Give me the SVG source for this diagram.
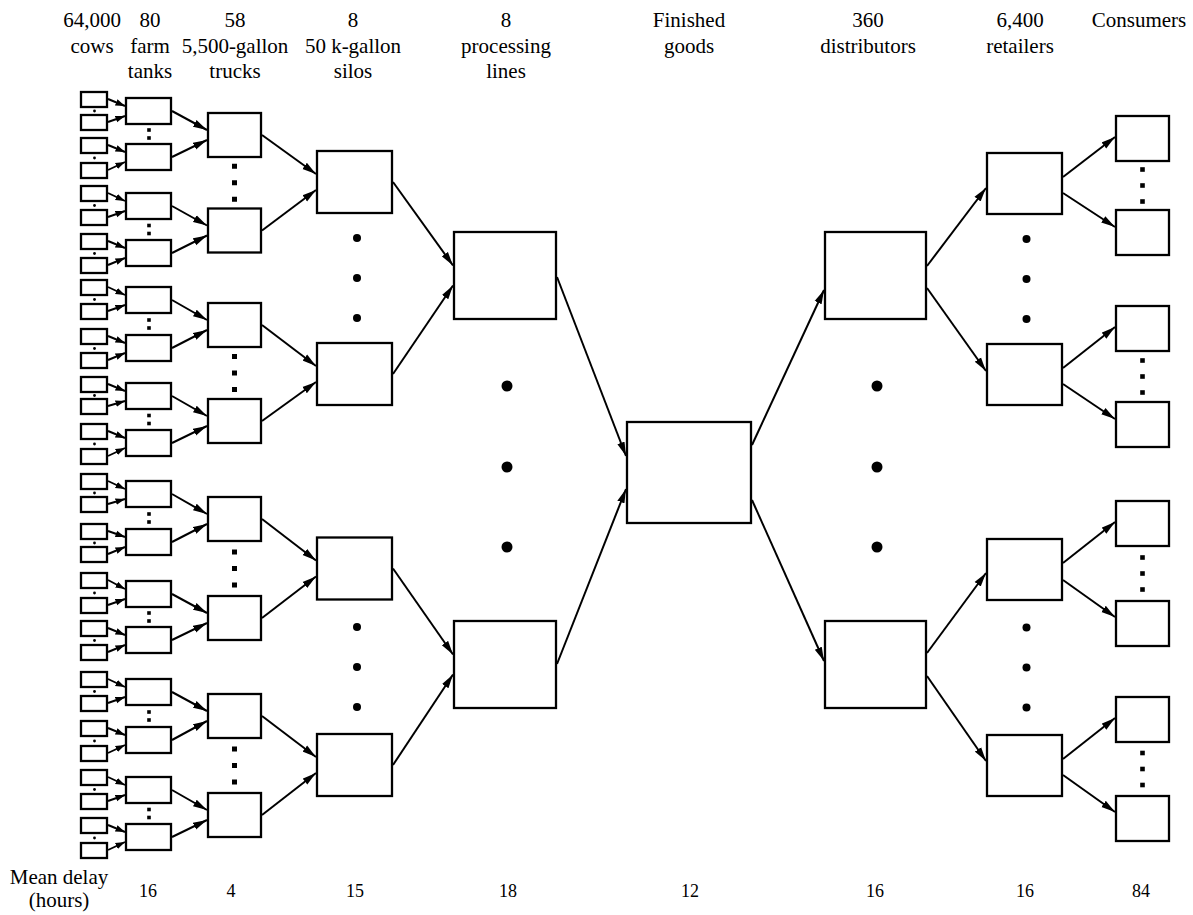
<svg xmlns="http://www.w3.org/2000/svg" width="1193" height="915" viewBox="0 0 1193 915">
  <defs>
    <style>
      .box { fill: #fff; stroke: #000; stroke-width: 2.3; }
      .lbl { font-size: 21px; fill: #000; text-anchor: middle; }
      .num { font-size: 18px; fill: #000; text-anchor: middle; }
      .arr { stroke: #000; stroke-width: 2; fill: none; marker-end: url(#head); }
      .sarr { stroke: #000; stroke-width: 1.9; fill: none; marker-end: url(#headSmall); }
      .dot { fill: #000; }
    </style>
    <marker id="head" markerUnits="userSpaceOnUse" markerWidth="15" markerHeight="9" refX="14" refY="4.5" orient="auto">
      <path d="M0,0.7 L14,4.5 L0,8.3 z" fill="#000"/>
    </marker>
    <marker id="headSmall" markerUnits="userSpaceOnUse" markerWidth="10" markerHeight="8" refX="9.5" refY="4" orient="auto">
      <path d="M0,0.7 L9.5,4 L0,7.3 z" fill="#000"/>
    </marker>
  </defs>

  <rect width="1193" height="915" fill="#fff"/>

  <g font-family="Liberation Serif, Times New Roman, DejaVu Serif, serif">
  <!-- column headings -->
  <g id="headings">
    <text class="lbl" x="92" y="27">64,000</text>
    <text class="lbl" x="92" y="53">cows</text>
    <text class="lbl" x="150" y="27">80</text>
    <text class="lbl" x="150" y="53">farm</text>
    <text class="lbl" x="150" y="78">tanks</text>
    <text class="lbl" x="235" y="27">58</text>
    <text class="lbl" x="235" y="53">5,500-gallon</text>
    <text class="lbl" x="235" y="78">trucks</text>
    <text class="lbl" x="353" y="27">8</text>
    <text class="lbl" x="353" y="53">50 k-gallon</text>
    <text class="lbl" x="353" y="78">silos</text>
    <text class="lbl" x="506" y="27">8</text>
    <text class="lbl" x="506" y="53">processing</text>
    <text class="lbl" x="506" y="78">lines</text>
    <text class="lbl" x="689" y="27">Finished</text>
    <text class="lbl" x="689" y="53">goods</text>
    <text class="lbl" x="868" y="27">360</text>
    <text class="lbl" x="868" y="53">distributors</text>
    <text class="lbl" x="1020" y="27">6,400</text>
    <text class="lbl" x="1020" y="53">retailers</text>
    <text class="lbl" x="1139" y="27">Consumers</text>
  </g>

  <!-- mean delay row -->
  <g id="delays">
    <text class="lbl" x="59" y="884">Mean delay</text>
    <text class="lbl" x="59" y="907">(hours)</text>
    <text class="num" x="148" y="897">16</text>
    <text class="num" x="231" y="897">4</text>
    <text class="num" x="355" y="897">15</text>
    <text class="num" x="508" y="897">18</text>
    <text class="num" x="690" y="897">12</text>
    <text class="num" x="875" y="897">16</text>
    <text class="num" x="1025" y="897">16</text>
    <text class="num" x="1141" y="897">84</text>
  </g>
  </g>

  <!-- cows -->
  <g id="cow-01"><rect class="box" x="81" y="92" width="26" height="15"/></g>
  <g id="cow-02"><rect class="box" x="81" y="115" width="26" height="15"/></g>
  <g id="cow-03"><rect class="box" x="81" y="138" width="26" height="15"/></g>
  <g id="cow-04"><rect class="box" x="81" y="163" width="26" height="15"/></g>
  <g id="cow-05"><rect class="box" x="81" y="186" width="26" height="15"/></g>
  <g id="cow-06"><rect class="box" x="81" y="210" width="26" height="15"/></g>
  <g id="cow-07"><rect class="box" x="81" y="234" width="26" height="15"/></g>
  <g id="cow-08"><rect class="box" x="81" y="258" width="26" height="15"/></g>
  <g id="cow-09"><rect class="box" x="81" y="280" width="26" height="15"/></g>
  <g id="cow-10"><rect class="box" x="81" y="304" width="26" height="15"/></g>
  <g id="cow-11"><rect class="box" x="81" y="329" width="26" height="15"/></g>
  <g id="cow-12"><rect class="box" x="81" y="353" width="26" height="15"/></g>
  <g id="cow-13"><rect class="box" x="81" y="377" width="26" height="15"/></g>
  <g id="cow-14"><rect class="box" x="81" y="399" width="26" height="15"/></g>
  <g id="cow-15"><rect class="box" x="81" y="424" width="26" height="15"/></g>
  <g id="cow-16"><rect class="box" x="81" y="449" width="26" height="15"/></g>
  <g id="cow-17"><rect class="box" x="81" y="474" width="26" height="15"/></g>
  <g id="cow-18"><rect class="box" x="81" y="497" width="26" height="15"/></g>
  <g id="cow-19"><rect class="box" x="81" y="524" width="26" height="15"/></g>
  <g id="cow-20"><rect class="box" x="81" y="547" width="26" height="15"/></g>
  <g id="cow-21"><rect class="box" x="81" y="573" width="26" height="15"/></g>
  <g id="cow-22"><rect class="box" x="81" y="598" width="26" height="15"/></g>
  <g id="cow-23"><rect class="box" x="81" y="621" width="26" height="15"/></g>
  <g id="cow-24"><rect class="box" x="81" y="645" width="26" height="15"/></g>
  <g id="cow-25"><rect class="box" x="81" y="672" width="26" height="15"/></g>
  <g id="cow-26"><rect class="box" x="81" y="696" width="26" height="15"/></g>
  <g id="cow-27"><rect class="box" x="81" y="721" width="26" height="15"/></g>
  <g id="cow-28"><rect class="box" x="81" y="746" width="26" height="15"/></g>
  <g id="cow-29"><rect class="box" x="81" y="770" width="26" height="15"/></g>
  <g id="cow-30"><rect class="box" x="81" y="794" width="26" height="15"/></g>
  <g id="cow-31"><rect class="box" x="81" y="818" width="26" height="15"/></g>
  <g id="cow-32"><rect class="box" x="81" y="843" width="26" height="15"/></g>

  <!-- farm tanks -->
  <g id="tank-01"><rect class="box" x="126" y="98" width="45" height="26"/></g>
  <g id="tank-02"><rect class="box" x="126" y="144" width="45" height="26"/></g>
  <g id="tank-03"><rect class="box" x="126" y="193" width="45" height="26"/></g>
  <g id="tank-04"><rect class="box" x="126" y="240" width="45" height="26"/></g>
  <g id="tank-05"><rect class="box" x="126" y="287" width="45" height="26"/></g>
  <g id="tank-06"><rect class="box" x="126" y="335" width="45" height="26"/></g>
  <g id="tank-07"><rect class="box" x="126" y="383" width="45" height="26"/></g>
  <g id="tank-08"><rect class="box" x="126" y="430" width="45" height="26"/></g>
  <g id="tank-09"><rect class="box" x="126" y="481" width="45" height="26"/></g>
  <g id="tank-10"><rect class="box" x="126" y="529" width="45" height="26"/></g>
  <g id="tank-11"><rect class="box" x="126" y="581" width="45" height="26"/></g>
  <g id="tank-12"><rect class="box" x="126" y="627" width="45" height="26"/></g>
  <g id="tank-13"><rect class="box" x="126" y="679" width="45" height="26"/></g>
  <g id="tank-14"><rect class="box" x="126" y="727" width="45" height="26"/></g>
  <g id="tank-15"><rect class="box" x="126" y="777" width="45" height="26"/></g>
  <g id="tank-16"><rect class="box" x="126" y="824" width="45" height="26"/></g>

  <!-- trucks -->
  <g id="truck-1"><rect class="box" x="208" y="113" width="53" height="44"/></g>
  <g id="truck-2"><rect class="box" x="208" y="208.5" width="53" height="44"/></g>
  <g id="truck-3"><rect class="box" x="208" y="303" width="53" height="44"/></g>
  <g id="truck-4"><rect class="box" x="208" y="399" width="53" height="44"/></g>
  <g id="truck-5"><rect class="box" x="208" y="497" width="53" height="44"/></g>
  <g id="truck-6"><rect class="box" x="208" y="596" width="53" height="44"/></g>
  <g id="truck-7"><rect class="box" x="208" y="694" width="53" height="44"/></g>
  <g id="truck-8"><rect class="box" x="208" y="793" width="53" height="44"/></g>

  <!-- silos -->
  <g id="silo-1"><rect class="box" x="317" y="151" width="75" height="62"/></g>
  <g id="silo-2"><rect class="box" x="317" y="343" width="75" height="62"/></g>
  <g id="silo-3"><rect class="box" x="317" y="537.5" width="75" height="62"/></g>
  <g id="silo-4"><rect class="box" x="317" y="734" width="75" height="62"/></g>

  <!-- processing lines -->
  <g id="line-1"><rect class="box" x="454" y="232" width="102" height="87"/></g>
  <g id="line-2"><rect class="box" x="454" y="621" width="102" height="87"/></g>

  <!-- finished goods -->
  <g id="finished-goods"><rect class="box" x="627" y="422" width="124" height="101"/></g>

  <!-- distributors -->
  <g id="distributor-1"><rect class="box" x="825" y="232" width="101" height="87"/></g>
  <g id="distributor-2"><rect class="box" x="825" y="621" width="101" height="87"/></g>

  <!-- retailers -->
  <g id="retailer-1"><rect class="box" x="987" y="153" width="75" height="61"/></g>
  <g id="retailer-2"><rect class="box" x="987" y="344" width="75" height="61"/></g>
  <g id="retailer-3"><rect class="box" x="987" y="539" width="75" height="61"/></g>
  <g id="retailer-4"><rect class="box" x="987" y="735" width="75" height="61"/></g>

  <!-- consumers -->
  <g id="consumer-1"><rect class="box" x="1116" y="116" width="53" height="45"/></g>
  <g id="consumer-2"><rect class="box" x="1116" y="210" width="53" height="45"/></g>
  <g id="consumer-3"><rect class="box" x="1116" y="306" width="53" height="45"/></g>
  <g id="consumer-4"><rect class="box" x="1116" y="402" width="53" height="45"/></g>
  <g id="consumer-5"><rect class="box" x="1116" y="501" width="53" height="45"/></g>
  <g id="consumer-6"><rect class="box" x="1116" y="601" width="53" height="45"/></g>
  <g id="consumer-7"><rect class="box" x="1116" y="697" width="53" height="45"/></g>
  <g id="consumer-8"><rect class="box" x="1116" y="796" width="53" height="45"/></g>

  <!-- ellipsis dots between elided nodes -->
  <g id="ellipses" class="dot">
    <!-- between cows of a pair -->
    <circle cx="94.5" cy="111" r="1.4"/>
    <circle cx="94.5" cy="158" r="1.4"/>
    <circle cx="94.5" cy="205.5" r="1.4"/>
    <circle cx="94.5" cy="253.5" r="1.4"/>
    <circle cx="94.5" cy="299.5" r="1.4"/>
    <circle cx="94.5" cy="348.5" r="1.4"/>
    <circle cx="94.5" cy="395.5" r="1.4"/>
    <circle cx="94.5" cy="444" r="1.4"/>
    <circle cx="94.5" cy="493" r="1.4"/>
    <circle cx="94.5" cy="543" r="1.4"/>
    <circle cx="94.5" cy="593" r="1.4"/>
    <circle cx="94.5" cy="640.5" r="1.4"/>
    <circle cx="94.5" cy="691.5" r="1.4"/>
    <circle cx="94.5" cy="741" r="1.4"/>
    <circle cx="94.5" cy="789.5" r="1.4"/>
    <circle cx="94.5" cy="838" r="1.4"/>
    <!-- between tanks -->
    <rect x="147.2" y="128.2" width="3.6" height="3.6"/><rect x="147.2" y="136.2" width="3.6" height="3.6"/>
    <rect x="147.2" y="223.7" width="3.6" height="3.6"/><rect x="147.2" y="231.7" width="3.6" height="3.6"/>
    <rect x="147.2" y="318.2" width="3.6" height="3.6"/><rect x="147.2" y="326.2" width="3.6" height="3.6"/>
    <rect x="147.2" y="413.7" width="3.6" height="3.6"/><rect x="147.2" y="421.7" width="3.6" height="3.6"/>
    <rect x="147.2" y="512.2" width="3.6" height="3.6"/><rect x="147.2" y="520.2" width="3.6" height="3.6"/>
    <rect x="147.2" y="611.2" width="3.6" height="3.6"/><rect x="147.2" y="619.2" width="3.6" height="3.6"/>
    <rect x="147.2" y="710.2" width="3.6" height="3.6"/><rect x="147.2" y="718.2" width="3.6" height="3.6"/>
    <rect x="147.2" y="807.7" width="3.6" height="3.6"/><rect x="147.2" y="815.7" width="3.6" height="3.6"/>
    <!-- between trucks -->
    <rect x="232" y="163.75" width="5" height="5"/><rect x="232" y="180.25" width="5" height="5"/><rect x="232" y="196.75" width="5" height="5"/>
    <rect x="232" y="354" width="5" height="5"/><rect x="232" y="370.5" width="5" height="5"/><rect x="232" y="387" width="5" height="5"/>
    <rect x="232" y="549.5" width="5" height="5"/><rect x="232" y="566" width="5" height="5"/><rect x="232" y="582.5" width="5" height="5"/>
    <rect x="232" y="746.5" width="5" height="5"/><rect x="232" y="763" width="5" height="5"/><rect x="232" y="779.5" width="5" height="5"/>
    <!-- between silos -->
    <circle cx="357" cy="238" r="4"/><circle cx="357" cy="278" r="4"/><circle cx="357" cy="318" r="4"/>
    <circle cx="357" cy="627" r="4"/><circle cx="357" cy="667" r="4"/><circle cx="357" cy="707" r="4"/>
    <!-- between processing lines -->
    <circle cx="507" cy="386" r="5.5"/><circle cx="507" cy="467" r="5.5"/><circle cx="507" cy="547" r="5.5"/>
    <!-- between distributors -->
    <circle cx="877" cy="386" r="5.5"/><circle cx="877" cy="467" r="5.5"/><circle cx="877" cy="547" r="5.5"/>
    <!-- between retailers -->
    <circle cx="1026.5" cy="239" r="4"/><circle cx="1026.5" cy="279" r="4"/><circle cx="1026.5" cy="319" r="4"/>
    <circle cx="1026.5" cy="627.5" r="4"/><circle cx="1026.5" cy="667.5" r="4"/><circle cx="1026.5" cy="707.5" r="4"/>
    <!-- between consumers -->
    <rect x="1140.2" y="167.2" width="4.6" height="4.6"/><rect x="1140.2" y="183.2" width="4.6" height="4.6"/><rect x="1140.2" y="199.2" width="4.6" height="4.6"/>
    <rect x="1140.2" y="358.2" width="4.6" height="4.6"/><rect x="1140.2" y="374.2" width="4.6" height="4.6"/><rect x="1140.2" y="390.2" width="4.6" height="4.6"/>
    <rect x="1140.2" y="555.2" width="4.6" height="4.6"/><rect x="1140.2" y="571.2" width="4.6" height="4.6"/><rect x="1140.2" y="587.2" width="4.6" height="4.6"/>
    <rect x="1140.2" y="750.7" width="4.6" height="4.6"/><rect x="1140.2" y="766.7" width="4.6" height="4.6"/><rect x="1140.2" y="782.7" width="4.6" height="4.6"/>
  </g>

  <!-- connectors -->
  <g id="connectors">
    <!-- cows to tanks -->
    <line class="sarr" x1="108" y1="99" x2="125" y2="106"/>
    <line class="sarr" x1="108" y1="122" x2="125" y2="116"/>
    <line class="sarr" x1="108" y1="145" x2="125" y2="152"/>
    <line class="sarr" x1="108" y1="170" x2="125" y2="162"/>
    <line class="sarr" x1="108" y1="193" x2="125" y2="201"/>
    <line class="sarr" x1="108" y1="217" x2="125" y2="211"/>
    <line class="sarr" x1="108" y1="241" x2="125" y2="248"/>
    <line class="sarr" x1="108" y1="265" x2="125" y2="258"/>
    <line class="sarr" x1="108" y1="287" x2="125" y2="295"/>
    <line class="sarr" x1="108" y1="311" x2="125" y2="305"/>
    <line class="sarr" x1="108" y1="336" x2="125" y2="343"/>
    <line class="sarr" x1="108" y1="360" x2="125" y2="353"/>
    <line class="sarr" x1="108" y1="384" x2="125" y2="391"/>
    <line class="sarr" x1="108" y1="406" x2="125" y2="401"/>
    <line class="sarr" x1="108" y1="431" x2="125" y2="438"/>
    <line class="sarr" x1="108" y1="456" x2="125" y2="448"/>
    <line class="sarr" x1="108" y1="481" x2="125" y2="489"/>
    <line class="sarr" x1="108" y1="504" x2="125" y2="499"/>
    <line class="sarr" x1="108" y1="531" x2="125" y2="537"/>
    <line class="sarr" x1="108" y1="554" x2="125" y2="547"/>
    <line class="sarr" x1="108" y1="580" x2="125" y2="589"/>
    <line class="sarr" x1="108" y1="605" x2="125" y2="599"/>
    <line class="sarr" x1="108" y1="628" x2="125" y2="635"/>
    <line class="sarr" x1="108" y1="652" x2="125" y2="645"/>
    <line class="sarr" x1="108" y1="679" x2="125" y2="687"/>
    <line class="sarr" x1="108" y1="703" x2="125" y2="697"/>
    <line class="sarr" x1="108" y1="728" x2="125" y2="735"/>
    <line class="sarr" x1="108" y1="753" x2="125" y2="745"/>
    <line class="sarr" x1="108" y1="777" x2="125" y2="785"/>
    <line class="sarr" x1="108" y1="801" x2="125" y2="795"/>
    <line class="sarr" x1="108" y1="825" x2="125" y2="832"/>
    <line class="sarr" x1="108" y1="850" x2="125" y2="842"/>
    <!-- tanks to trucks -->
    <line class="arr" x1="172" y1="111" x2="207" y2="130"/>
    <line class="arr" x1="172" y1="157" x2="207" y2="140"/>
    <line class="arr" x1="172" y1="206" x2="207" y2="225.5"/>
    <line class="arr" x1="172" y1="253" x2="207" y2="235.5"/>
    <line class="arr" x1="172" y1="300" x2="207" y2="320"/>
    <line class="arr" x1="172" y1="348" x2="207" y2="330"/>
    <line class="arr" x1="172" y1="396" x2="207" y2="416"/>
    <line class="arr" x1="172" y1="443" x2="207" y2="426"/>
    <line class="arr" x1="172" y1="494" x2="207" y2="514"/>
    <line class="arr" x1="172" y1="542" x2="207" y2="524"/>
    <line class="arr" x1="172" y1="594" x2="207" y2="613"/>
    <line class="arr" x1="172" y1="640" x2="207" y2="623"/>
    <line class="arr" x1="172" y1="692" x2="207" y2="711"/>
    <line class="arr" x1="172" y1="740" x2="207" y2="721"/>
    <line class="arr" x1="172" y1="790" x2="207" y2="810"/>
    <line class="arr" x1="172" y1="837" x2="207" y2="820"/>
    <!-- trucks to silos -->
    <line class="arr" x1="262" y1="135" x2="316" y2="174"/>
    <line class="arr" x1="262" y1="230.5" x2="316" y2="190"/>
    <line class="arr" x1="262" y1="325" x2="316" y2="366"/>
    <line class="arr" x1="262" y1="421" x2="316" y2="382"/>
    <line class="arr" x1="262" y1="519" x2="316" y2="560.5"/>
    <line class="arr" x1="262" y1="618" x2="316" y2="576.5"/>
    <line class="arr" x1="262" y1="716" x2="316" y2="757"/>
    <line class="arr" x1="262" y1="815" x2="316" y2="773"/>
    <!-- silos to processing lines -->
    <line class="arr" x1="393" y1="182" x2="453" y2="265.5"/>
    <line class="arr" x1="393" y1="374" x2="453" y2="285.5"/>
    <line class="arr" x1="393" y1="568.5" x2="453" y2="654.5"/>
    <line class="arr" x1="393" y1="765" x2="453" y2="674.5"/>
    <!-- processing lines to finished goods -->
    <line class="arr" x1="557" y1="277" x2="626" y2="456"/>
    <line class="arr" x1="557" y1="664" x2="626" y2="489"/>
    <!-- finished goods to distributors -->
    <line class="arr" x1="752" y1="445" x2="824" y2="290"/>
    <line class="arr" x1="752" y1="500" x2="824" y2="661"/>
    <!-- distributors to retailers -->
    <line class="arr" x1="927" y1="266" x2="986" y2="188"/>
    <line class="arr" x1="927" y1="288" x2="986" y2="371"/>
    <line class="arr" x1="927" y1="653" x2="986" y2="573"/>
    <line class="arr" x1="927" y1="676" x2="986" y2="761"/>
    <!-- retailers to consumers -->
    <line class="arr" x1="1063" y1="177" x2="1115" y2="137"/>
    <line class="arr" x1="1063" y1="193" x2="1115" y2="227"/>
    <line class="arr" x1="1063" y1="368" x2="1115" y2="327"/>
    <line class="arr" x1="1063" y1="384" x2="1115" y2="419"/>
    <line class="arr" x1="1063" y1="563" x2="1115" y2="522"/>
    <line class="arr" x1="1063" y1="580" x2="1115" y2="617"/>
    <line class="arr" x1="1063" y1="759" x2="1115" y2="718"/>
    <line class="arr" x1="1063" y1="775" x2="1115" y2="812"/>
  </g>
</svg>
